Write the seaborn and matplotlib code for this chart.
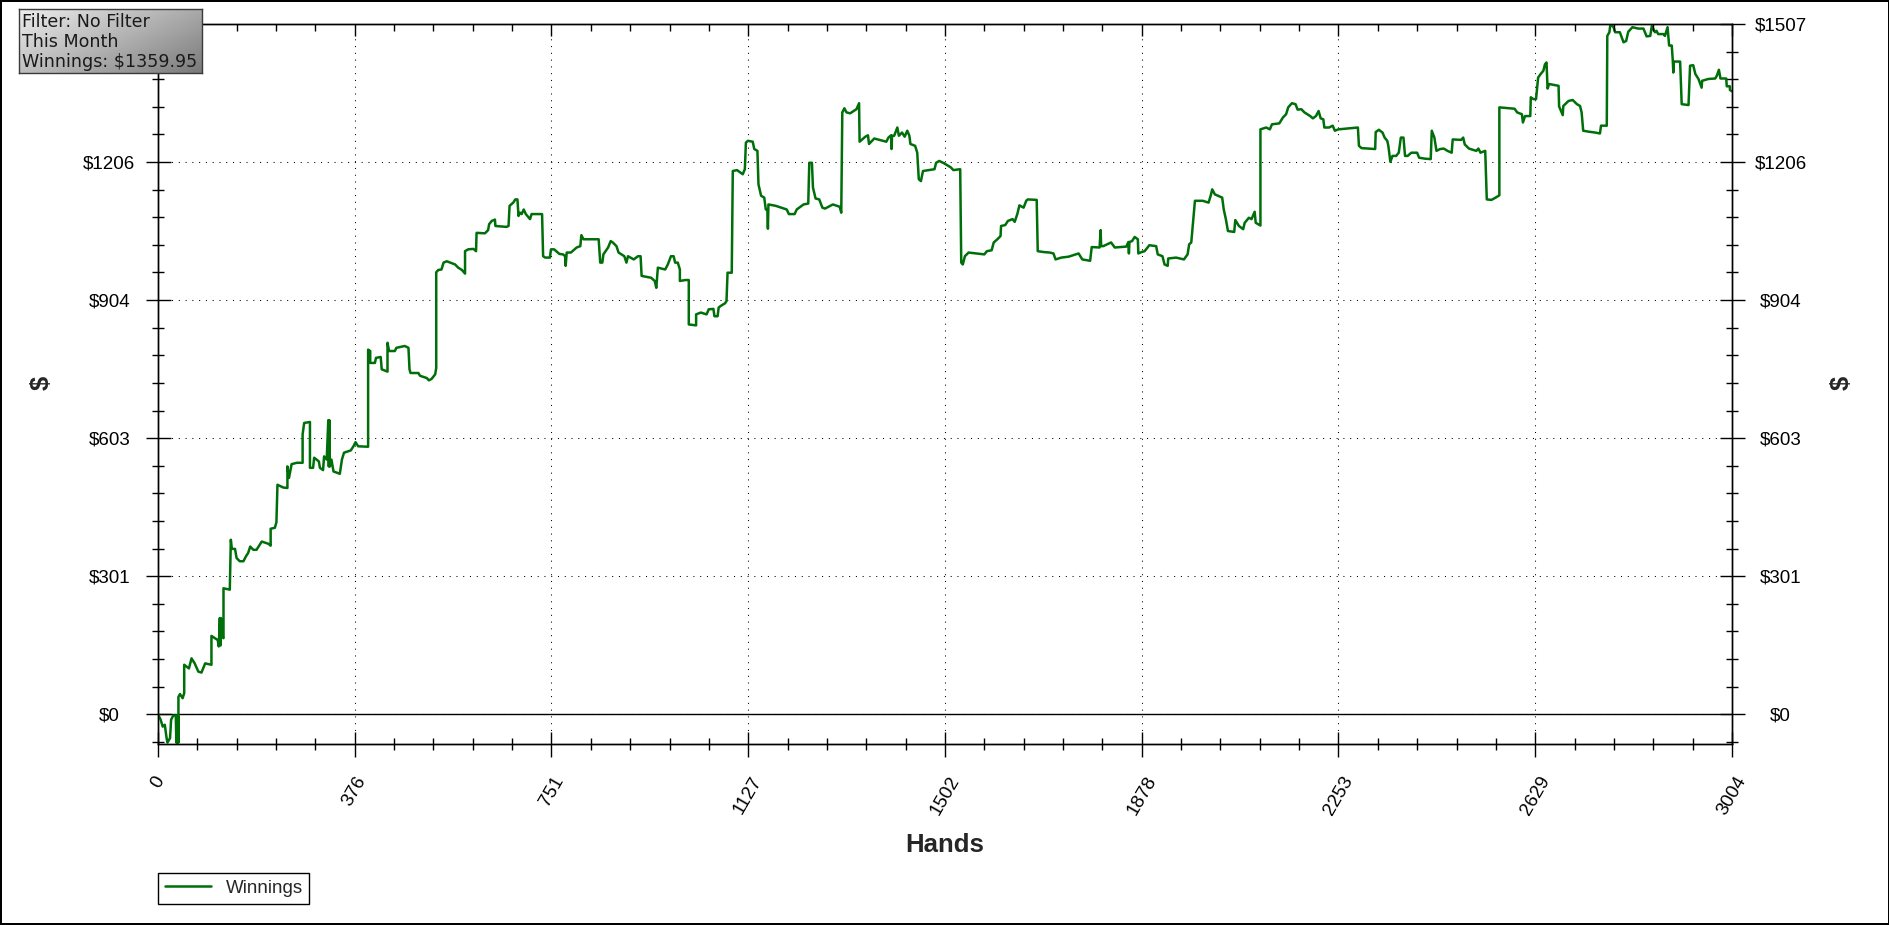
import numpy as np
import pandas as pd
import matplotlib
matplotlib.use("Agg")
import matplotlib.pyplot as plt
import seaborn as sns

# ---------------- data ----------------
hands = [0, 5, 9, 13, 16, 18, 23, 25, 29, 34, 35, 36, 37, 38, 39, 39, 42, 47, 50, 50,
         59, 64, 70, 77, 83, 90, 102, 102, 114, 116, 118, 119, 120, 122, 125, 125, 137, 139, 141, 147,
         150, 156, 163, 168, 172, 176, 182, 188, 198, 211, 215, 215, 223, 226, 228, 239, 247, 247, 250, 255,
         265, 276, 276, 279, 290, 290, 296, 298, 307, 309, 315, 317, 322, 325, 326, 327, 328, 331, 335, 347,
         351, 355, 368, 373, 377, 382, 401, 401, 405, 405, 414, 416, 425, 427, 438, 438, 441, 452, 455, 471,
         478, 480, 482, 497, 500, 513, 517, 522, 529, 531, 531, 535, 541, 545, 551, 567, 573, 580, 586, 586,
         592, 602, 607, 608, 624, 630, 632, 637, 643, 644, 665, 669, 671, 678, 682, 686, 688, 691, 694, 698,
         702, 710, 713, 733, 735, 739, 748, 750, 756, 766, 773, 777, 778, 780, 788, 799, 806, 808, 812, 841,
         844, 848, 850, 859, 864, 868, 875, 879, 890, 894, 897, 908, 916, 921, 923, 941, 948, 951, 954, 968,
         973, 979, 984, 987, 992, 996, 996, 1007, 1013, 1013, 1027, 1027, 1036, 1047, 1051, 1060, 1062, 1068, 1070, 1076,
         1082, 1085, 1087, 1095, 1097, 1105, 1116, 1120, 1122, 1126, 1135, 1138, 1144, 1146, 1151, 1157, 1160, 1163, 1164, 1165,
         1179, 1200, 1204, 1215, 1219, 1232, 1241, 1243, 1248, 1250, 1255, 1262, 1268, 1273, 1288, 1301, 1304, 1306, 1310, 1314,
         1321, 1333, 1338, 1339, 1350, 1355, 1357, 1367, 1390, 1394, 1399, 1400, 1401, 1405, 1411, 1414, 1420, 1425, 1430, 1434,
         1436, 1445, 1449, 1452, 1456, 1460, 1482, 1485, 1491, 1500, 1513, 1518, 1531, 1533, 1536, 1540, 1547, 1577, 1582, 1591,
         1595, 1602, 1608, 1609, 1617, 1622, 1631, 1635, 1640, 1644, 1652, 1657, 1660, 1677, 1679, 1691, 1702, 1709, 1713, 1724,
         1738, 1749, 1757, 1764, 1779, 1782, 1797, 1799, 1800, 1804, 1819, 1826, 1848, 1852, 1853, 1854, 1859, 1864, 1870, 1871,
         1877, 1883, 1892, 1905, 1908, 1917, 1921, 1927, 1928, 1943, 1958, 1965, 1968, 1972, 1979, 1994, 2005, 2009, 2012, 2017,
         2023, 2031, 2034, 2038, 2042, 2054, 2056, 2063, 2071, 2074, 2082, 2087, 2093, 2095, 2104, 2104, 2115, 2122, 2126, 2140,
         2147, 2153, 2157, 2164, 2171, 2175, 2182, 2188, 2199, 2204, 2210, 2215, 2219, 2224, 2226, 2235, 2242, 2246, 2253, 2272,
         2290, 2292, 2297, 2323, 2324, 2330, 2337, 2341, 2346, 2348, 2352, 2356, 2363, 2368, 2372, 2377, 2380, 2385, 2392, 2403,
         2407, 2418, 2429, 2431, 2436, 2440, 2447, 2454, 2461, 2469, 2471, 2487, 2491, 2494, 2502, 2516, 2520, 2524, 2533, 2536,
         2545, 2553, 2560, 2560, 2589, 2594, 2603, 2605, 2609, 2619, 2620, 2625, 2630, 2634, 2639, 2644, 2647, 2650, 2652, 2655,
         2673, 2674, 2681, 2682, 2692, 2700, 2708, 2714, 2717, 2720, 2730, 2743, 2752, 2754, 2765, 2766, 2770, 2772, 2778, 2781,
         2790, 2797, 2802, 2806, 2814, 2825, 2835, 2841, 2848, 2851, 2857, 2860, 2863, 2873, 2876, 2881, 2884, 2889, 2891, 2892,
         2893, 2905, 2908, 2921, 2924, 2930, 2934, 2940, 2946, 2947, 2959, 2972, 2975, 2979, 2982, 2993, 2994, 3000, 3000, 3004]

winnings = [0, -12, -27, -23, -49, -62, -52, -12, -3, -3, -62, -3, -62, -3, -62, 38, 44, 35, 46, 108,
            100, 122, 111, 93, 91, 111, 108, 171, 162, 148, 210, 150, 210, 170, 166, 275, 272, 381, 361, 361,
            341, 334, 334, 345, 352, 366, 359, 359, 377, 372, 368, 405, 407, 419, 501, 495, 494, 541, 516, 546,
            549, 549, 611, 636, 638, 538, 538, 560, 552, 538, 533, 563, 556, 642, 541, 642, 541, 556, 530, 525,
            556, 571, 576, 585, 594, 585, 584, 796, 793, 767, 767, 778, 780, 753, 748, 811, 793, 793, 800, 804,
            800, 753, 745, 745, 739, 734, 729, 732, 742, 756, 965, 970, 971, 986, 989, 982, 975, 970, 962, 1011,
            1015, 1016, 1011, 1051, 1050, 1057, 1070, 1077, 1080, 1066, 1064, 1066, 1110, 1117, 1124, 1124, 1088, 1095, 1092, 1102,
            1092, 1081, 1092, 1092, 1000, 997, 997, 1015, 1015, 1005, 1004, 1000, 979, 1008, 1008, 1019, 1022, 1046, 1037, 1037,
            986, 986, 1004, 1019, 1033, 1030, 1022, 1008, 1000, 986, 1000, 993, 1000, 1000, 957, 953, 946, 931, 975, 971,
            982, 1000, 1000, 986, 986, 971, 946, 948, 948, 851, 849, 873, 877, 873, 884, 885, 869, 869, 888, 893,
            897, 902, 964, 964, 1186, 1188, 1179, 1190, 1248, 1252, 1250, 1234, 1230, 1157, 1132, 1128, 1102, 1102, 1060, 1113,
            1110, 1102, 1092, 1092, 1102, 1113, 1115, 1204, 1204, 1150, 1126, 1124, 1106, 1104, 1113, 1108, 1095, 1314, 1323, 1314,
            1312, 1321, 1334, 1250, 1261, 1264, 1245, 1257, 1250, 1259, 1264, 1234, 1263, 1263, 1281, 1263, 1270, 1261, 1274, 1263,
            1245, 1241, 1226, 1168, 1164, 1186, 1190, 1204, 1208, 1203, 1194, 1188, 1190, 986, 982, 1000, 1008, 1004, 1011, 1013,
            1030, 1037, 1044, 1066, 1068, 1077, 1081, 1075, 1092, 1111, 1106, 1121, 1124, 1123, 1011, 1009, 1008, 1006, 993, 997,
            999, 1003, 1006, 993, 990, 1020, 1019, 1057, 1022, 1022, 1030, 1019, 1021, 1031, 1006, 1031, 1033, 1042, 1037, 1006,
            1009, 1011, 1024, 1022, 1004, 1000, 982, 979, 995, 997, 993, 1004, 1026, 1030, 1121, 1121, 1117, 1132, 1146, 1135,
            1132, 1128, 1102, 1081, 1055, 1053, 1079, 1066, 1059, 1073, 1084, 1081, 1097, 1073, 1067, 1277, 1281, 1277, 1288, 1290,
            1303, 1310, 1325, 1334, 1332, 1320, 1321, 1314, 1306, 1301, 1306, 1317, 1301, 1299, 1281, 1281, 1285, 1274, 1277, 1279,
            1281, 1241, 1236, 1234, 1271, 1276, 1270, 1259, 1252, 1242, 1206, 1219, 1219, 1226, 1259, 1259, 1219, 1219, 1226, 1226,
            1215, 1213, 1212, 1274, 1259, 1230, 1234, 1235, 1230, 1226, 1255, 1254, 1259, 1244, 1235, 1230, 1235, 1226, 1230, 1124,
            1123, 1128, 1133, 1325, 1322, 1314, 1310, 1292, 1306, 1306, 1347, 1343, 1343, 1390, 1398, 1405, 1419, 1423, 1366, 1376,
            1372, 1327, 1308, 1328, 1339, 1341, 1332, 1328, 1314, 1274, 1272, 1270, 1268, 1285, 1285, 1481, 1489, 1507, 1500, 1489,
            1489, 1467, 1470, 1490, 1500, 1497, 1497, 1480, 1481, 1503, 1489, 1492, 1485, 1485, 1481, 1500, 1460, 1460, 1427, 1401,
            1425, 1425, 1332, 1330, 1416, 1417, 1398, 1387, 1368, 1383, 1387, 1388, 1394, 1407, 1388, 1388, 1371, 1371, 1363, 1360]

x_tick_labels = ["0", "376", "751", "1127", "1502", "1878", "2253", "2629", "3004"]
y_tick_labels = ["$0", "$301", "$603", "$904", "$1206", "$1507"]
series_name = "Winnings"
info_lines = ["Filter: No Filter", "This Month", "Winnings: $1359.95"]

# ---------------- figure ----------------
sns.set_theme(style="white")
plt.rcParams['font.family'] = ['Liberation Sans', 'DejaVu Sans']

W, H = 1890, 925
fig = plt.figure(figsize=(W / 100, H / 100), dpi=100)
fig.patch.set_facecolor('white')
fig.patch.set_edgecolor('black')
fig.patch.set_linewidth(1.5)

ax = fig.add_axes([158 / W, 1 - 744 / H, (1732 - 158) / W, (744 - 24) / H])
ax.set_facecolor('white')
ax_top = ax.twiny()

df = pd.DataFrame({'Hands': hands, series_name: winnings})
sns.lineplot(data=df, x='Hands', y=series_name, estimator=None, sort=False,
             color='#006f0a', linewidth=1.8, ax=ax, label=series_name, zorder=4)

XMAX, YMIN, YMAX = 3004, -65, 1507
ax.set_xlim(0, XMAX)
ax.set_ylim(YMIN, YMAX)
ax.set_xlabel('')
ax.set_ylabel('')

x_major = np.linspace(0, XMAX, 9)
x_minor = np.linspace(0, XMAX, 41)
y_major = np.linspace(0, YMAX, 6)
y_step = YMAX / 25
y_minor = np.arange(-1, 26) * y_step

ax.set_xticks(x_major)
ax.set_xticklabels(x_tick_labels, rotation=60, ha='center', va='top')
ax.set_xticks(x_minor, minor=True)
ax.set_yticks(y_major)
ax.set_yticklabels(y_tick_labels)
ax.set_yticks(y_minor, minor=True)

ax.tick_params(axis='x', which='major', direction='inout', length=18, width=1.0,
               bottom=True, top=False, labelbottom=True, labeltop=False,
               labelsize=13.5, pad=12, color='black', labelcolor='black')
ax.tick_params(axis='x', which='minor', direction='inout', length=8.6, width=1.0,
               bottom=True, top=False, color='black')
ax.tick_params(axis='y', which='major', direction='inout', length=18, width=1.0,
               left=True, right=True, labelleft=True, labelright=True,
               labelsize=13.5, pad=26, color='black', labelcolor='black')
ax.tick_params(axis='y', which='minor', direction='inout', length=8.6, width=1.0,
               left=True, right=True, color='black')
for t in ax.yaxis.get_major_ticks():
    t.label1.set_horizontalalignment('center')
    t.label2.set_horizontalalignment('center')

ax_top.set_xlim(0, XMAX)
ax_top.set_xticks(x_major)
ax_top.set_xticks(x_minor, minor=True)
ax_top.tick_params(axis='x', which='major', direction='in', length=8.6, width=1.0,
                   top=True, bottom=False, labeltop=False, labelbottom=False, color='black')
ax_top.tick_params(axis='x', which='minor', direction='in', length=4.8, width=1.0,
                   top=True, bottom=False, color='black')

for a in (ax, ax_top):
    for s in a.spines.values():
        s.set_color('black')
        s.set_linewidth(1.0)
        s.set_visible(True)

ax.grid(True, which='major', axis='both', color='black',
        linestyle=(0, (1, 5.5)), linewidth=0.75)
ax.axhline(0, color='black', linewidth=1.0, zorder=3)

# axis titles
fig.text(41.7 / W, 1 - 383.3 / H, '$', rotation=90, fontsize=18.5, fontweight='bold',
         ha='center', va='center')
fig.text(1841.7 / W, 1 - 383.3 / H, '$', rotation=90, fontsize=18.5, fontweight='bold',
         ha='center', va='center')
fig.text(945 / W, 1 - 851.7 / H, 'Hands', fontsize=18.5, fontweight='bold',
         ha='center', va='baseline')

# legend
handles, labels = ax.get_legend_handles_labels()
leg = ax.legend(handles, labels, loc='upper left',
                bbox_to_anchor=(158.3 / W, 1 - 873.3 / H), bbox_transform=fig.transFigure,
                borderaxespad=0, frameon=True, fancybox=False, edgecolor='black',
                framealpha=1, fontsize=13.5, handlelength=2.45, handletextpad=0.8,
                borderpad=0.35)
leg.get_frame().set_linewidth(1.0)

# info box with gradient
bx0, by0, bx1, by1 = 19.3, 9.3, 202.3, 73.3
box_ax = fig.add_axes([bx0 / W, 1 - by1 / H, (bx1 - bx0) / W, (by1 - by0) / H], zorder=10)
gx = np.linspace(0, 1, 200)[None, :]
gy = np.linspace(0, 1, 60)[:, None]
grad = 0.93 - 0.27 * gx - 0.18 * gy
box_ax.imshow(grad, cmap='gray', vmin=0, vmax=1, aspect='auto', extent=(0, 1, 1, 0))
box_ax.set_xlim(0, 1)
box_ax.set_ylim(1, 0)
box_ax.set_xticks([])
box_ax.set_yticks([])
for s in box_ax.spines.values():
    s.set_color('#3a3a3a')
    s.set_linewidth(1.0)
for i, line in enumerate(info_lines):
    fig.text(22.3 / W, 1 - (26.7 + 20 * i) / H, line, fontsize=12.6,
             family=['DejaVu Sans'], color='#1a1a1a', ha='left', va='baseline', zorder=20)

fig.savefig('out.png', dpi=100, facecolor='white', edgecolor='black')
